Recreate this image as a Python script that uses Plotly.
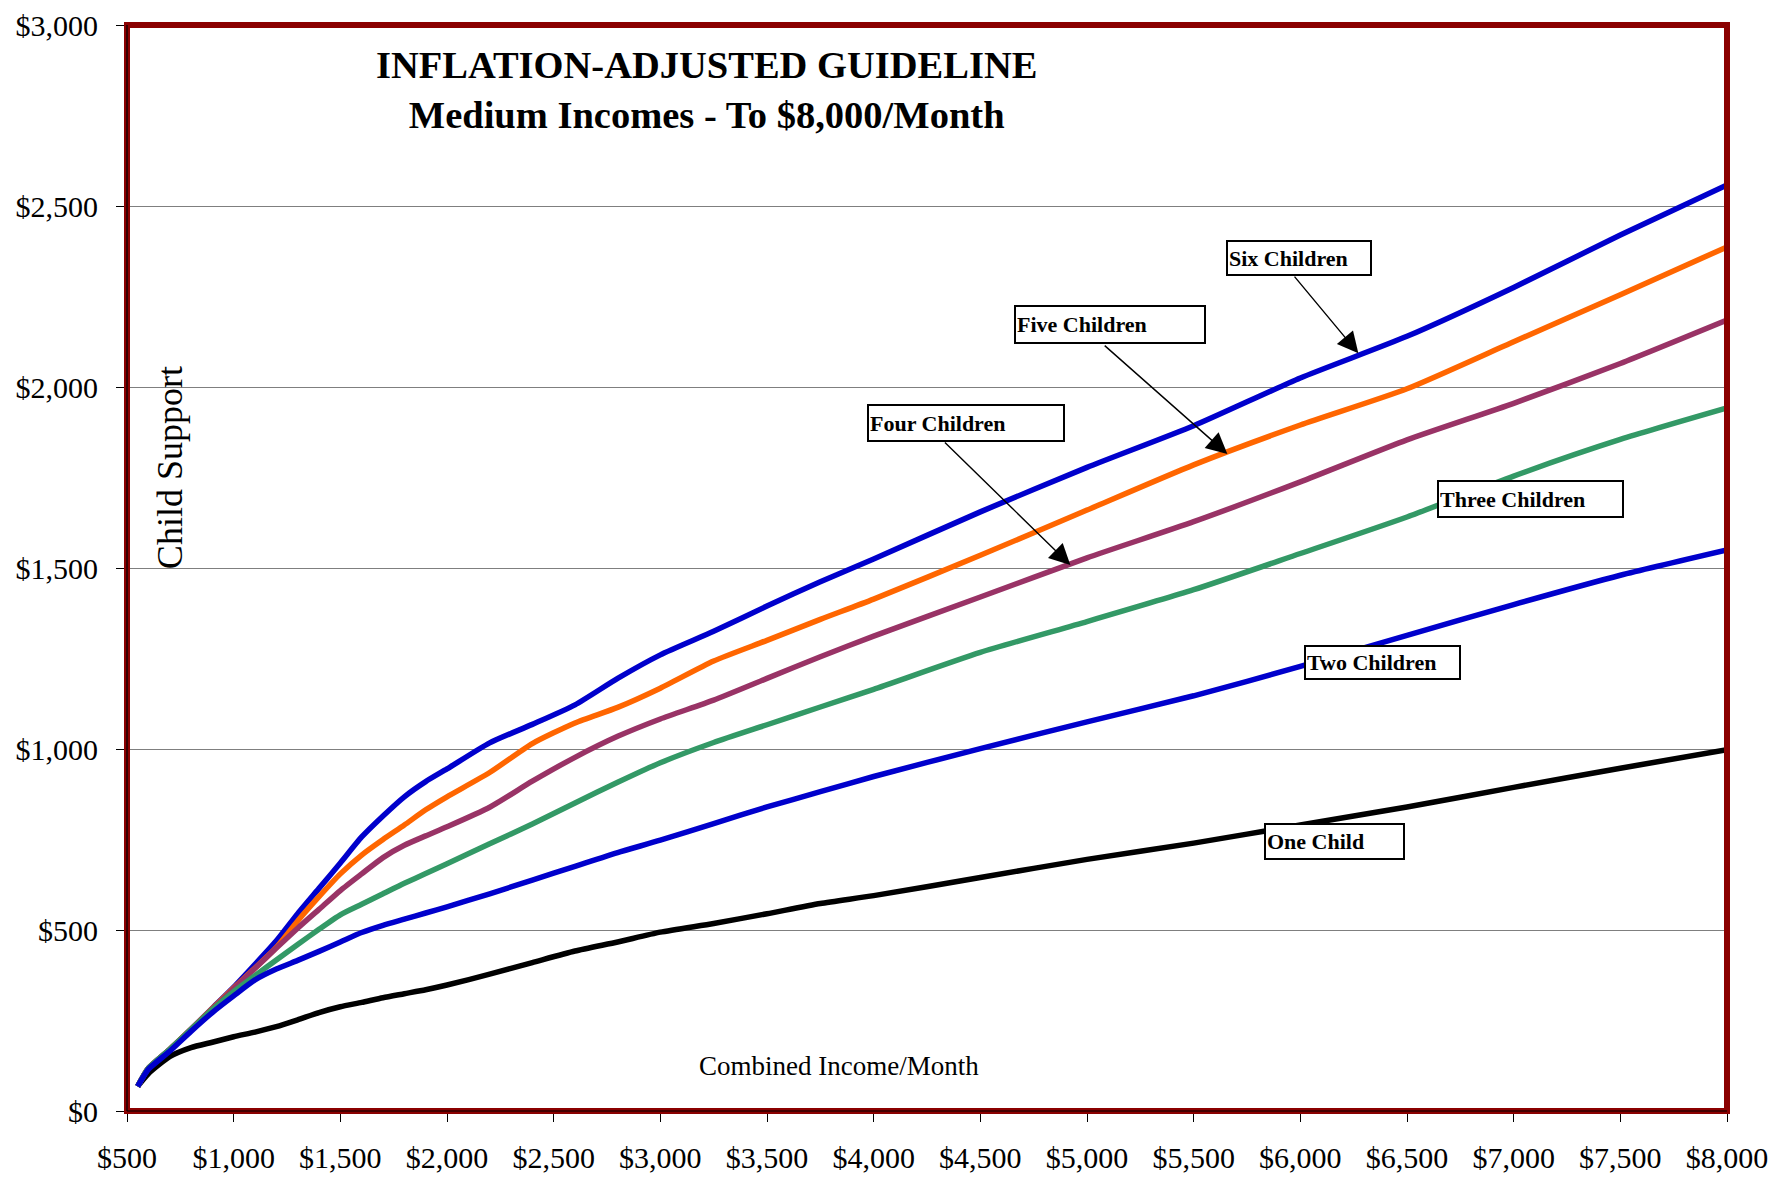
import plotly.graph_objects as go

# Combined monthly income (x) and guideline child support (y) per family size
income = [550, 600, 700, 800, 900, 1000, 1100, 1200, 1300, 1400, 1500, 1600, 1700,
          1800, 1900, 2000, 2200, 2400, 2600, 2800, 3000, 3250, 3500, 3750, 4000,
          4500, 5000, 5500, 6000, 6500, 7000, 7500, 8000]

one_child = [68, 103, 150, 175, 190, 205, 218, 233, 252, 272, 288, 300, 313, 324, 335,
             348, 378, 410, 442, 467, 494, 518, 545, 573, 595, 645, 695, 740, 790, 840,
             894, 947, 998]
two_children = [68, 115, 165, 220, 272, 318, 362, 392, 416, 441, 467, 493, 513, 530, 547,
                564, 600, 638, 676, 714, 748, 794, 840, 882, 924, 1001, 1075, 1147, 1228,
                1314, 1399, 1480, 1550]
three_children = [68, 118, 170, 225, 280, 330, 374, 417, 460, 502, 542, 571, 600, 629, 656,
                  683, 738, 793, 851, 908, 962, 1018, 1067, 1116, 1165, 1267, 1352, 1440,
                  1540, 1641, 1754, 1855, 1942]
four_children = [68, 118, 170, 225, 281, 338, 394, 450, 505, 557, 609, 655, 700, 734, 760,
                 785, 839, 911, 977, 1035, 1083, 1135, 1195, 1255, 1312, 1420, 1528, 1628,
                 1738, 1854, 1955, 2065, 2185]
five_children = [68, 118, 170, 226, 283, 340, 395, 452, 525, 592, 655, 707, 750, 790, 832,
                 868, 935, 1015, 1072, 1115, 1168, 1243, 1300, 1358, 1414, 1535, 1660, 1785,
                 1895, 1995, 2125, 2255, 2387]
six_children = [68, 118, 170, 226, 284, 342, 405, 470, 545, 615, 685, 757, 815, 868, 910,
                945, 1017, 1068, 1122, 1195, 1260, 1325, 1395, 1462, 1525, 1655, 1778, 1893,
                2025, 2140, 2275, 2420, 2558]

series_names = ["One Child", "Six Children", "Five Children", "Four Children",
                "Three Children", "Two Children"]
series_values = [one_child, six_children, five_children, four_children,
                 three_children, two_children]
series_colors = ["#000000", "#0000CC", "#FF6600", "#993366", "#339966", "#0000CC"]

x_tick_values = [500, 1000, 1500, 2000, 2500, 3000, 3500, 4000,
                 4500, 5000, 5500, 6000, 6500, 7000, 7500, 8000]
x_tick_labels = ["$500", "$1,000", "$1,500", "$2,000", "$2,500", "$3,000", "$3,500",
                 "$4,000", "$4,500", "$5,000", "$5,500", "$6,000", "$6,500", "$7,000",
                 "$7,500", "$8,000"]
y_tick_values = [0, 500, 1000, 1500, 2000, 2500, 3000]
y_tick_labels = ["$0", "$500", "$1,000", "$1,500", "$2,000", "$2,500", "$3,000"]

SERIF = "Liberation Serif, Times New Roman, serif"

fig = go.Figure()
for name, vals, col in zip(series_names, series_values, series_colors):
    fig.add_trace(go.Scatter(
        x=income, y=vals, name=name, mode="lines",
        line=dict(color=col, width=5.5, shape="spline", smoothing=0.6),
        showlegend=False,
    ))

# Boxed series labels: (text, left x, top y, box width, box height)
label_boxes = [
    ("Six Children", 5653, 2405, 140, 30),
    ("Five Children", 4660, 2226, 186, 33),
    ("Four Children", 3971, 1953, 192, 32),
    ("Three Children", 6642, 1743, 181, 32),
    ("Two Children", 6019, 1288, 151, 29),
    ("One Child", 5832, 796, 135, 31),
]
annotations = []
for text, lx, ty, w, h in label_boxes:
    annotations.append(dict(
        x=lx, y=ty, xref="x", yref="y", xanchor="left", yanchor="top",
        text="<b>%s</b>" % text, showarrow=False, align="left",
        width=w, height=h, bgcolor="white", bordercolor="black",
        borderwidth=2, borderpad=1,
        font=dict(family=SERIF, size=22, color="black"),
    ))

# Pointer arrows from label boxes to their curves: (tail x, tail y, head x, head y)
pointers = [
    (5967, 2309, 6272, 2093),
    (5076, 2118, 5658, 1815),
    (4327, 1851, 4922, 1508),
]
for tx, ty, hx, hy in pointers:
    annotations.append(dict(
        x=hx, y=hy, ax=tx, ay=ty, xref="x", yref="y", axref="x", ayref="y",
        text="", showarrow=True, arrowhead=2, arrowsize=3, arrowwidth=1.4,
        arrowcolor="black",
    ))

annotations.append(dict(
    x=0.362, y=0.9397, xref="paper", yref="paper", xanchor="center", yanchor="middle",
    text="<b>INFLATION-ADJUSTED GUIDELINE</b><br><b>Medium Incomes - To $8,000/Month</b>",
    showarrow=False, font=dict(family=SERIF, size=38.5, color="black"),
))
annotations.append(dict(
    x=0.445, y=0.041, xref="paper", yref="paper", xanchor="center", yanchor="middle",
    text="Combined Income/Month", showarrow=False,
    font=dict(family=SERIF, size=27, color="black"),
))
annotations.append(dict(
    x=0.0269, y=0.592, xref="paper", yref="paper", xanchor="center", yanchor="middle",
    text="Child Support", textangle=-90, showarrow=False,
    font=dict(family=SERIF, size=36, color="black"),
))

shapes = [
    # white backing behind the vertical axis caption
    dict(type="rect", xref="paper", yref="paper", x0=0.002, x1=0.0594, y0=0.489, y1=0.693,
         fillcolor="white", line=dict(width=0), layer="between"),
    # dark red plot-area frame
    dict(type="rect", xref="paper", yref="paper", x0=0, x1=1, y0=0, y1=1,
         line=dict(color="#8B0000", width=6), fillcolor="rgba(0,0,0,0)", layer="above"),
    dict(type="line", xref="paper", yref="paper", x0=0, x1=0, y0=0, y1=1,
         line=dict(color="#000000", width=1.2), layer="above"),
    dict(type="line", xref="paper", yref="paper", x0=0, x1=1, y0=0, y1=0,
         line=dict(color="#000000", width=1.2), layer="above"),
]

fig.update_layout(
    width=1786, height=1183,
    margin=dict(l=127, r=59, t=25, b=72, autoexpand=False),
    paper_bgcolor="white", plot_bgcolor="white",
    font=dict(family=SERIF, color="black"),
    annotations=annotations, shapes=shapes, showlegend=False,
)
fig.update_xaxes(
    range=[500, 8000], tickmode="array", tickvals=x_tick_values, ticktext=x_tick_labels,
    showgrid=False, zeroline=False, showline=False,
    ticks="outside", ticklen=10, tickwidth=1, tickcolor="black",
    tickfont=dict(family=SERIF, size=30, color="black"), ticklabelstandoff=10,
)
fig.update_yaxes(
    range=[0, 3000], tickmode="array", tickvals=y_tick_values, ticktext=y_tick_labels,
    showgrid=True, gridcolor="#7f7f7f", gridwidth=1.3, zeroline=False, showline=False,
    ticks="outside", ticklen=10, tickwidth=1, tickcolor="black",
    tickfont=dict(family=SERIF, size=30, color="black"), ticklabelstandoff=12,
)

fig.write_html("out.html")
